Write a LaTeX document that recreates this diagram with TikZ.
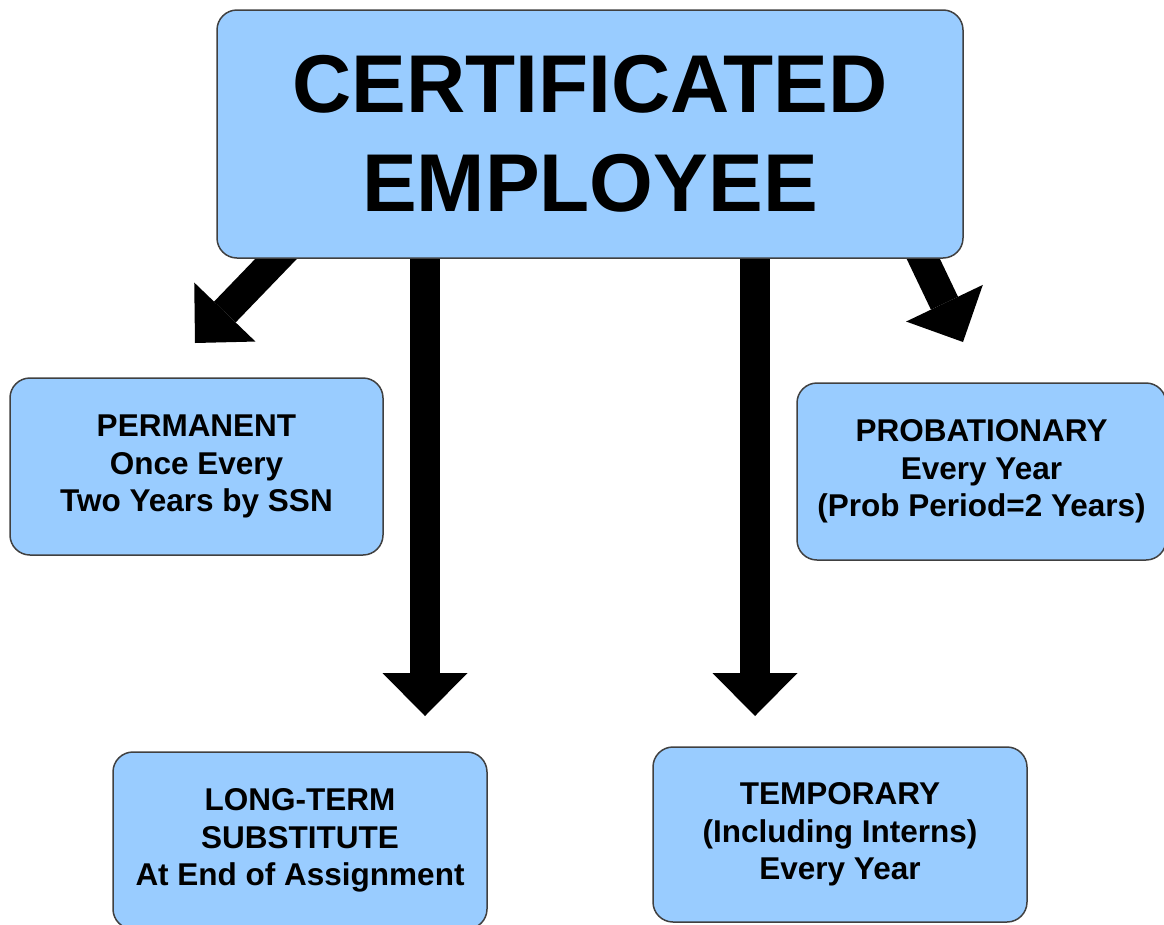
\documentclass[tikz,border=0pt]{standalone}
\usepackage{fontspec}
\setmainfont{Liberation Sans}
\usetikzlibrary{arrows.meta,backgrounds}
\definecolor{kastenblau}{RGB}{153,204,255}

\begin{document}
\begin{tikzpicture}[x=1pt, y=-1pt, every node/.style={font=\bfseries\fontsize{31.5}{37.5}\selectfont, align=center},
		kasten/.style={draw=black!75, line width=1.5pt, fill=kastenblau, rounded corners=20pt, inner sep=0pt, minimum width=373pt, minimum height=177pt},
		pfeil/.style={line width=30pt, -{Triangle[width=85pt, length=43pt, line width=0pt]}}]
		\useasboundingbox (0,0) rectangle (1164,924);
		\node (cert) [kasten, minimum width=746pt, minimum height=248pt, font=\bfseries\fontsize{82}{99}\selectfont] at (590,134) {CERTIFICATED\\EMPLOYEE};
		\node (perm) [kasten] at (196.5,466.5) {PERMANENT\\Once Every\\Two Years by SSN};
		\node (prob) [kasten, minimum width=369pt] at (981.5,471.5) {PROBATIONARY\\Every Year\\(Prob Period=2 Years)};
		\node (long) [kasten, minimum width=374pt] at (300,840.5) {LONG-TERM\\SUBSTITUTE\\At End of Assignment};
		\node (temp) [kasten, minimum width=374pt, minimum height=175pt] at (840,834.5) {TEMPORARY\\(Including Interns)\\Every Year};
		%Pfeile
		\coordinate (spitzeP) at (195,343);
		\coordinate (spitzeL) at (425,716);
		\coordinate (spitzeT) at (755,716);
		\coordinate (spitzeR) at (963,342);
		\begin{scope}[on background layer]
			\draw[pfeil] ([shift={(85,-26)}]cert.south west) -- (spitzeP);
			\draw[pfeil] (cert.south -| spitzeL) -- (spitzeL);
			\draw[pfeil] (cert.south -| spitzeT) -- (spitzeT);
			\draw[pfeil] ([shift={(-52,-24)}]cert.south east) -- (spitzeR);
		\end{scope}
	\end{tikzpicture}
\end{document}
